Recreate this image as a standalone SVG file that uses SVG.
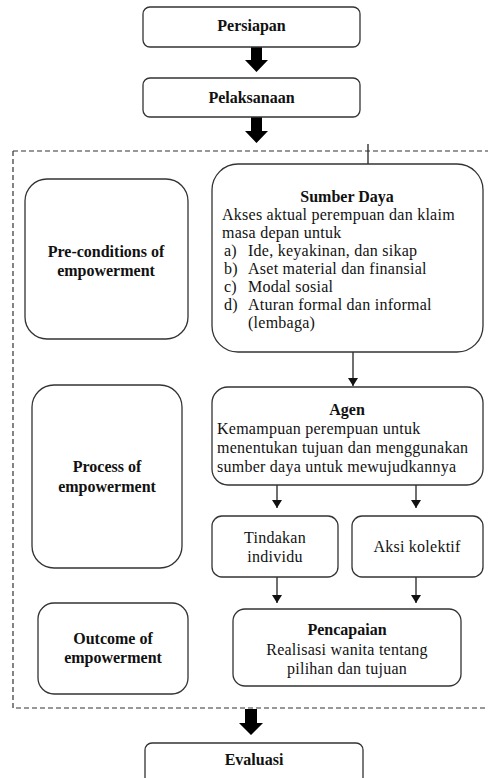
<svg xmlns="http://www.w3.org/2000/svg" width="488" height="778" viewBox="0 0 488 778">
<defs>
<style>
.box{fill:#fff;stroke:#333;stroke-width:1.3}
.t{font-family:'Liberation Serif','DejaVu Serif',serif;font-size:16px;letter-spacing:0.25px;fill:#111}
.b{font-family:'Liberation Serif','DejaVu Serif',serif;font-size:16px;font-weight:bold;fill:#111}
.c{text-anchor:middle}
.ln{stroke:#222;stroke-width:1.3;fill:none}
.big{fill:#000}
</style>
<marker id="ah" viewBox="0 0 8 10" refX="8" refY="5" markerWidth="8" markerHeight="10" markerUnits="userSpaceOnUse" orient="auto">
<path d="M0,0 L8,5 L0,10 Z" fill="#111"/>
</marker>
</defs>
<rect width="488" height="778" fill="#fff"/>

<path d="M13,151 H490 M13,151 V708 H490" fill="none" stroke="#333" stroke-width="1.2" stroke-dasharray="5,3"/>

<g id="connectors">
<path class="big" d="M251,47 H262 V60 H268 L256.5,72 L245,60 H251 Z"/>
<path class="big" d="M251,117 H262 V131 H268 L256.5,143 L245,131 H251 Z"/>
<path class="big" d="M245,709 H257 V723 H263 L251,735 L239,723 H245 Z"/>
<line class="ln" x1="368" y1="144" x2="368" y2="164"/>
<line class="ln" x1="353" y1="352" x2="353" y2="386" marker-end="url(#ah)"/>
<line class="ln" x1="277" y1="485" x2="277" y2="508" marker-end="url(#ah)"/>
<line class="ln" x1="416" y1="485" x2="416" y2="508" marker-end="url(#ah)"/>
<line class="ln" x1="277" y1="577" x2="277" y2="603" marker-end="url(#ah)"/>
<line class="ln" x1="416" y1="577" x2="416" y2="603" marker-end="url(#ah)"/>
</g>

<g id="persiapan">
<rect class="box" x="143" y="7" width="217" height="40" rx="7"/>
<text class="b c" x="251.5" y="31">Persiapan</text>
</g>
<g id="pelaksanaan">
<rect class="box" x="143" y="78" width="217" height="39" rx="7"/>
<text class="b c" x="251.5" y="103">Pelaksanaan</text>
</g>

<g id="preconditions">
<rect class="box" x="25" y="179" width="163" height="160" rx="22"/>
<text class="b c" x="106" y="257">Pre-conditions of</text>
<text class="b c" x="106" y="276">empowerment</text>
</g>
<g id="sumberdaya">
<rect class="box" x="212" y="164" width="271" height="188" rx="26"/>
<text class="b c" x="347" y="202">Sumber Daya</text>
<text class="t" x="222" y="220">Akses aktual perempuan dan klaim</text>
<text class="t" x="222" y="238">masa depan untuk</text>
<text class="t" x="224" y="256">a)</text><text class="t" x="248" y="256">Ide, keyakinan, dan sikap</text>
<text class="t" x="224" y="274">b)</text><text class="t" x="248" y="274">Aset material dan finansial</text>
<text class="t" x="224" y="292">c)</text><text class="t" x="248" y="292">Modal sosial</text>
<text class="t" x="224" y="310">d)</text><text class="t" x="248" y="310">Aturan formal dan informal</text>
<text class="t" x="248" y="328">(lembaga)</text>
</g>

<g id="process">
<rect class="box" x="32" y="385" width="150" height="183" rx="22"/>
<text class="b c" x="107" y="472">Process of</text>
<text class="b c" x="107" y="492">empowerment</text>
</g>
<g id="agen">
<rect class="box" x="212" y="387" width="271" height="98" rx="16"/>
<text class="b c" x="347" y="415">Agen</text>
<text class="t" x="217" y="434">Kemampuan perempuan untuk</text>
<text class="t" x="217" y="453">menentukan tujuan dan menggunakan</text>
<text class="t" x="217" y="472">sumber daya untuk mewujudkannya</text>
</g>
<g id="tindakan">
<rect class="box" x="212" y="516" width="126" height="61" rx="10"/>
<text class="t c" x="275" y="543">Tindakan</text>
<text class="t c" x="275" y="562">individu</text>
</g>
<g id="aksi">
<rect class="box" x="352" y="516" width="131" height="61" rx="10"/>
<text class="t c" x="417" y="552">Aksi kolektif</text>
</g>

<g id="outcome">
<rect class="box" x="38" y="603" width="150" height="91" rx="16"/>
<text class="b c" x="113" y="644">Outcome of</text>
<text class="b c" x="113" y="663">empowerment</text>
</g>
<g id="pencapaian">
<rect class="box" x="233" y="609" width="228" height="77" rx="12"/>
<text class="b c" x="347" y="635">Pencapaian</text>
<text class="t c" x="347" y="655">Realisasi wanita tentang</text>
<text class="t c" x="347" y="674">pilihan dan tujuan</text>
</g>

<g id="evaluasi">
<rect class="box" x="145" y="743" width="218" height="45" rx="7"/>
<text class="b c" x="254" y="765">Evaluasi</text>
</g>
</svg>
